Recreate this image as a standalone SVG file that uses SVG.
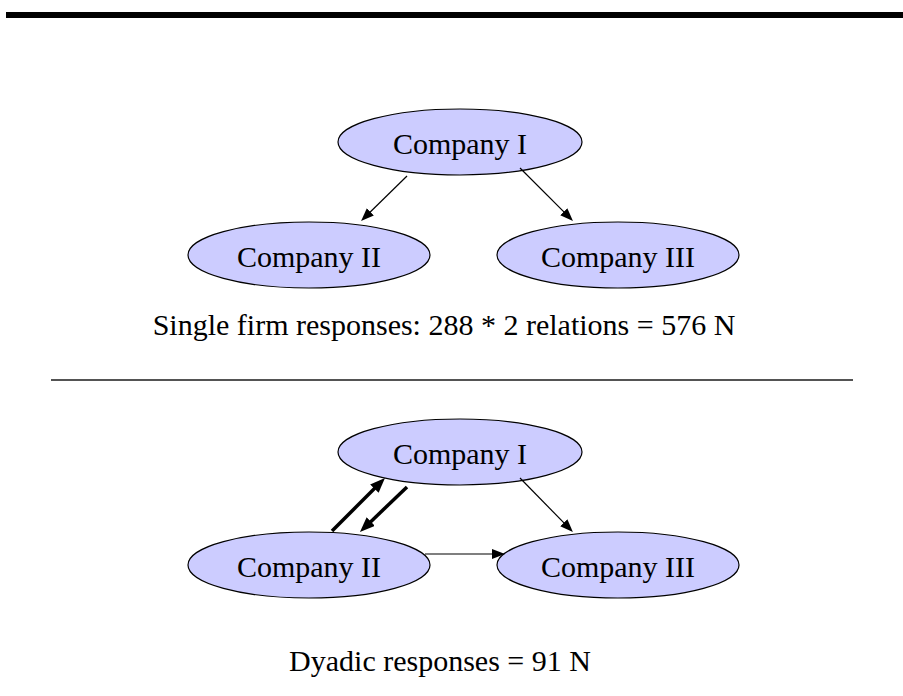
<svg xmlns="http://www.w3.org/2000/svg" width="903" height="696" viewBox="0 0 903 696">
  <style>
    .node ellipse { fill: #ccccff; stroke: #000000; stroke-width: 1.2; }
    .label { font-family: "Liberation Serif", "Times New Roman", serif; font-size: 30px; fill: #000000; text-anchor: middle; }
    .thin { stroke: #000000; stroke-width: 1.2; fill: none; marker-end: url(#head); }
    .thick { stroke: #000000; stroke-width: 3.5; fill: none; marker-end: url(#headBold); }
  </style>
  <defs>
    <marker id="head" markerUnits="userSpaceOnUse" markerWidth="14" markerHeight="11" refX="3" refY="5" orient="auto">
      <path d="M0,0 L13,5 L0,10 z" fill="#000000"/>
    </marker>
    <marker id="headBold" markerUnits="userSpaceOnUse" markerWidth="16" markerHeight="13" refX="4" refY="6" orient="auto">
      <path d="M0,0 L15,6 L0,12 z" fill="#000000"/>
    </marker>
  </defs>

  <rect x="6" y="12" width="897" height="6" fill="#000000"/>
  <line x1="51" y1="380" x2="853" y2="380" stroke="#1a1a1a" stroke-width="1.4"/>

  <!-- upper graph -->
  <g id="top-company-1" class="node">
    <ellipse cx="460" cy="142" rx="122" ry="33"/>
    <text class="label" x="460" y="154">Company I</text>
  </g>
  <g id="top-company-2" class="node">
    <ellipse cx="309" cy="255" rx="121" ry="33"/>
    <text class="label" x="309" y="267">Company II</text>
  </g>
  <g id="top-company-3" class="node">
    <ellipse cx="618" cy="255" rx="121" ry="33"/>
    <text class="label" x="618" y="267">Company III</text>
  </g>

  <!-- lower graph -->
  <g id="bottom-company-1" class="node">
    <ellipse cx="460" cy="452" rx="122" ry="33"/>
    <text class="label" x="460" y="464">Company I</text>
  </g>
  <g id="bottom-company-2" class="node">
    <ellipse cx="309" cy="565" rx="121" ry="33"/>
    <text class="label" x="309" y="577">Company II</text>
  </g>
  <g id="bottom-company-3" class="node">
    <ellipse cx="618" cy="565" rx="121" ry="33"/>
    <text class="label" x="618" y="577">Company III</text>
  </g>

  <g id="connectors">
    <line class="thin" x1="407" y1="176" x2="368.2" y2="214"/>
    <line class="thin" x1="520" y1="168" x2="565.9" y2="213.9"/>
    <line class="thin" x1="520" y1="478" x2="565.9" y2="524.9"/>
    <line class="thin" x1="425" y1="554" x2="495" y2="554"/>
    <line class="thick" x1="332" y1="531" x2="377.2" y2="485.8"/>
    <line class="thick" x1="407" y1="487" x2="367.9" y2="524.4"/>
  </g>

  <text class="label" x="444" y="335">Single firm responses: 288 * 2 relations = 576 N</text>
  <text class="label" x="440" y="671">Dyadic responses = 91 N</text>
</svg>
